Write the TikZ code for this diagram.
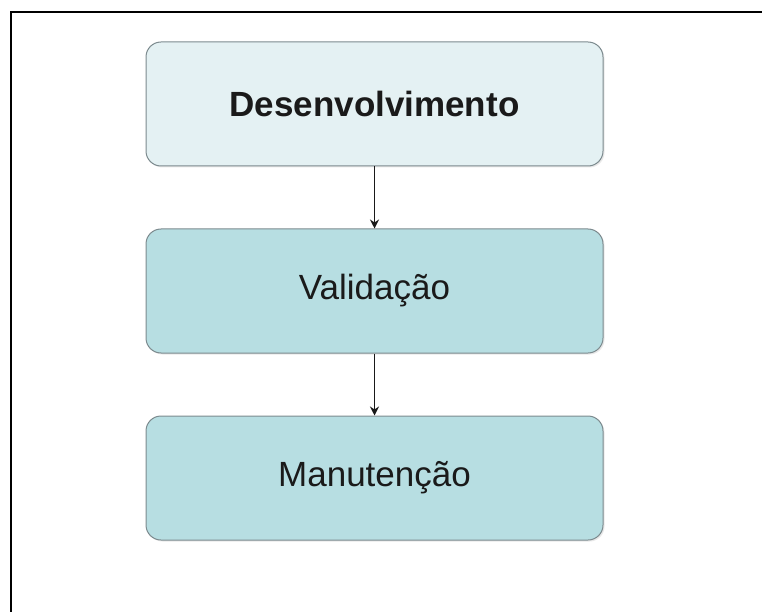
\documentclass[tikz,border=0pt]{standalone}
\usepackage{fontspec}
\setmainfont{Liberation Sans}
\usetikzlibrary{positioning, arrows.meta, shadows}
\definecolor{cDEV}{HTML}{E4F1F3}
\definecolor{cSTAGE}{HTML}{B7DEE2}
\definecolor{cEDGE}{HTML}{7C8A8E}
\definecolor{cTEXT}{HTML}{1A1A1A}
\tikzset{
  stagebox/.style={
    draw=cEDGE, line width=1pt,
    rounded corners=15pt,
    fill=#1,
    text=cTEXT,
    align=center,
    minimum width=457pt,
    minimum height=124pt,
    font=\fontsize{35}{42}\selectfont,
    drop shadow={opacity=0.18, shadow xshift=1.5pt, shadow yshift=-1.5pt}
  },
  flow/.style={
    -{Stealth[length=9pt,width=9pt,inset=3pt]},
    line width=1.7pt,
    draw=black!90
  },
  frameline/.style={
    line width=2pt,
    draw=black
  }
}

\begin{document}
\begin{tikzpicture}[node distance=62pt]
  \useasboundingbox (0,0) rectangle (762pt,-612pt);
  \draw[frameline] (11pt,-612pt) -- (11pt,-12pt) -- (762pt,-12pt);

  \node[stagebox=cDEV] (dev) at (374.5pt,-104pt) {\bfseries Desenvolvimento};
  \node[stagebox=cSTAGE, below=of dev] (val) {Validação};
  \node[stagebox=cSTAGE, below=of val] (man) {Manutenção};

  \draw[flow] (dev) -- (val);
  \draw[flow] (val) -- (man);
\end{tikzpicture}
\end{document}
